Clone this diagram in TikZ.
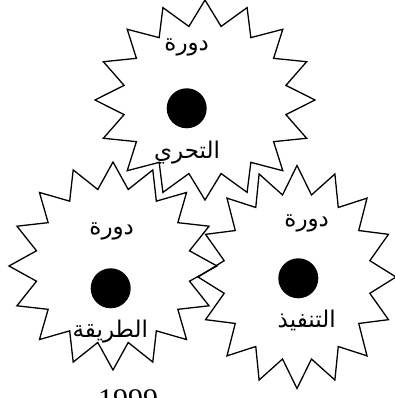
\documentclass[tikz,border=0pt]{standalone}
\usepackage{fontspec}
\newfontfamily\arabicfont[Script=Arabic]{DejaVu Sans}
\newfontfamily\yearfont{Liberation Serif}
\TeXXeTstate=1

\begin{document}
\begin{tikzpicture}[x=1pt, y=1pt,
        gearline/.style={draw=black, line width=1.3pt, line join=miter},
        hub/.style={circle, fill=black, minimum size=40pt, inner sep=0pt},
        cycletext/.style={font=\arabicfont\fontsize{23}{27}\selectfont, inner sep=0pt}]
    \useasboundingbox (0,0) rectangle (395,398);
    % centres of the three stars
    \coordinate (topc) at (205,298);
    \coordinate (leftc) at (113,132);
    \coordinate (rightc) at (297,121);
    % 16-point stars
    \foreach \gc/\rx/\ry in {topc/110/100, leftc/104/104, rightc/99/111.5} {
        \draw[gearline, shift={(\gc)}] (90:\rx pt and \ry pt)
            \foreach \k [evaluate=\k as \rad using {mod(\k,2)==0 ? 1 : 0.75}] in {1,...,31} {
                -- (90+11.25*\k:{\rad*\rx pt} and {\rad*\ry pt})
            } -- cycle;
    }
    % hubs and labels
    \node[hub] (tophub) at (186.7,289.7) {};
    \node[cycletext] (toptitle) at (186.7,351) {\beginR دورة\endR};
    \node[cycletext] (topname) at (187,245) {\beginR التحري\endR};

    \node[hub] (lefthub) at (110.7,109.7) {};
    \node[cycletext] (lefttitle) at (111.7,167) {\beginR دورة\endR};
    \node[cycletext] (leftname) at (110.3,66) {\beginR الطريقة\endR};

    \node[hub] (righthub) at (298.3,119.7) {};
    \node[cycletext] (righttitle) at (306.7,175) {\beginR دورة\endR};
    \node[cycletext] (rightname) at (306.7,78) {\beginR التنفيذ\endR};

    \node[font=\yearfont\fontsize{30}{34}\selectfont, anchor=base, inner sep=0pt] (year) at (128,-11) {1999};
\end{tikzpicture}
\end{document}
